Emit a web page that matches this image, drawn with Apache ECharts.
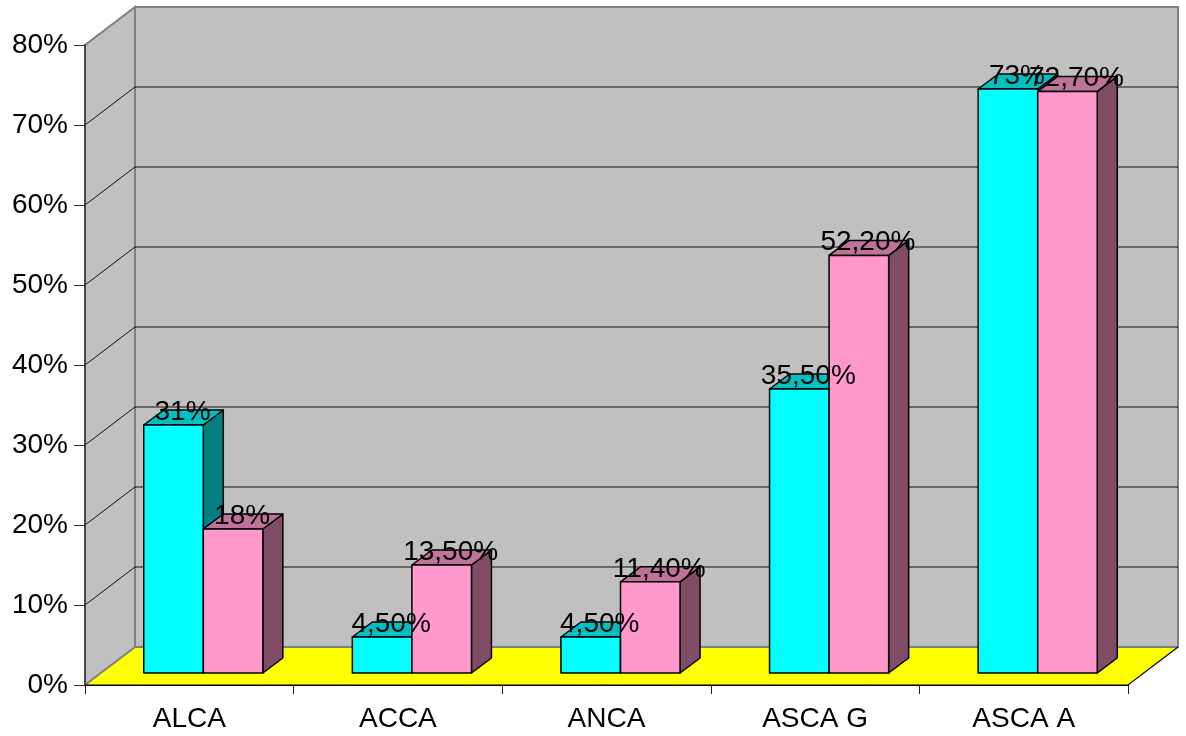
<!DOCTYPE html>
<html>
<head>
<meta charset="utf-8">
<script src="https://cdn.jsdelivr.net/npm/echarts@6/dist/echarts.min.js"></script>
<style>html,body{margin:0;padding:0;background:#fff;}#c{width:1186px;height:736px;}</style>
</head>
<body>
<div id="c"></div>
<script>
const categories = ['ALCA', 'ACCA', 'ANCA', 'ASCA G', 'ASCA A'];
const seriesCyan = [31, 4.5, 4.5, 35.5, 73];
const seriesPink = [18, 13.5, 11.4, 52.2, 72.7];
const yTicks = [0, 10, 20, 30, 40, 50, 60, 70, 80];

const FONT = '"Liberation Sans", Arial, sans-serif';
const DX = 50, DY = -38;       // wall depth
const BX = 14, BY = -12;       // bar front plane offset
const BDX = 20, BDY = -15;     // bar depth

function fmt(v) {
  return (v % 1 === 0) ? v + '%' : v.toFixed(2).replace('.', ',') + '%';
}

function barGeom(api, side) {
  const i = api.value(0), v = api.value(1);
  const c = api.coord([i, v]);
  const b = api.coord([i, 0]);
  const band = api.size([1, 0])[0];
  const w = band * 0.2855;
  const cx = c[0] + BX;
  const x0 = side < 0 ? cx - w : cx;
  return { x0: x0, x1: x0 + w, yt: c[1] + BY, yb: b[1] + BY, v: v };
}

function makeBar(side, front, top, sideCol) {
  return function (params, api) {
    const g = barGeom(api, side);
    const st = { stroke: '#000', lineWidth: 1.5, lineJoin: 'round' };
    return {
      type: 'group',
      children: [
        { type: 'polygon', shape: { points: [[g.x1, g.yt], [g.x1 + BDX, g.yt + BDY], [g.x1 + BDX, g.yb + BDY], [g.x1, g.yb]] },
          style: Object.assign({ fill: sideCol }, st) },
        { type: 'polygon', shape: { points: [[g.x0, g.yt], [g.x1, g.yt], [g.x1 + BDX, g.yt + BDY], [g.x0 + BDX, g.yt + BDY]] },
          style: Object.assign({ fill: top }, st) },
        { type: 'rect', shape: { x: g.x0, y: g.yt, width: g.x1 - g.x0, height: g.yb - g.yt },
          style: Object.assign({ fill: front }, st) }
      ]
    };
  };
}

function makeLabel(side) {
  return function (params, api) {
    const g = barGeom(api, side);
    return {
      type: 'text',
      style: {
        x: (g.x0 + g.x1) / 2 + 9, y: g.yt - 13,
        text: fmt(g.v), fill: '#000',
        font: '28px ' + FONT,
        align: 'center', verticalAlign: 'middle'
      }
    };
  };
}

function renderWalls(params, api) {
  const cs = params.coordSys;
  const L = cs.x, R = cs.x + cs.width;
  const y = v => api.coord([0, v])[1];
  const y0 = y(yTicks[0]), yTop = y(yTicks[yTicks.length - 1]);
  const kids = [];
  kids.push({ type: 'polygon', shape: { points: [[L, y0], [R, y0], [R + DX, y0 + DY], [L + DX, y0 + DY]] },
    style: { fill: '#FFFF00', stroke: null } });
  kids.push({ type: 'polygon', shape: { points: [[L + DX, yTop + DY], [R + DX, yTop + DY], [R + DX, y0 + DY], [L + DX, y0 + DY]] },
    style: { fill: '#C0C0C0', stroke: '#808080', lineWidth: 2 } });
  kids.push({ type: 'polygon', shape: { points: [[L, yTop], [L + DX, yTop + DY], [L + DX, y0 + DY], [L, y0]] },
    style: { fill: '#C0C0C0', stroke: '#808080', lineWidth: 2 } });
  yTicks.forEach(v => {
    if (v === yTicks[0] || v === yTicks[yTicks.length - 1]) return;
    const yy = y(v);
    kids.push({ type: 'polyline', shape: { points: [[L, yy], [L + DX, yy + DY], [R + DX, yy + DY]] },
      style: { fill: null, stroke: '#111', lineWidth: 1 } });
  });
  kids.push({ type: 'polyline', shape: { points: [[L, y0], [R, y0], [R + DX, y0 + DY]] },
    style: { fill: null, stroke: '#000', lineWidth: 1.2 } });
  return { type: 'group', children: kids };
}

const chart = echarts.init(document.getElementById('c'), null, { renderer: 'canvas' });
const dataOf = arr => arr.map((v, i) => [i, v]);

chart.setOption({
  animation: false,
  backgroundColor: '#fff',
  grid: { left: 85, right: 58, top: 45, bottom: 51, containLabel: false },
  xAxis: {
    type: 'category', data: categories, boundaryGap: true, z: 10,
    axisLine: { show: true, lineStyle: { color: '#000', width: 1 } },
    axisTick: { show: true, inside: false, length: 9, lineStyle: { color: '#222' } },
    axisLabel: { color: '#000', fontSize: 28, fontFamily: FONT, margin: 20 },
    splitLine: { show: false }
  },
  yAxis: {
    type: 'value', min: 0, max: 80, interval: 10, z: 10,
    axisLine: { show: true, lineStyle: { color: '#333', width: 1.5 } },
    axisTick: { show: true, inside: false, length: 11, lineStyle: { color: '#333' } },
    axisLabel: { color: '#000', fontSize: 28, fontFamily: FONT, margin: 17, formatter: '{value}%' },
    splitLine: { show: false }
  },
  series: [
    { type: 'custom', renderItem: renderWalls, data: [[0, 0]], encode: { x: 0, y: 1 }, clip: false, z: 1, silent: true },
    { type: 'custom', name: 'A', renderItem: makeBar(-1, '#00FFFF', '#00C0C0', '#008080'), data: dataOf(seriesCyan), encode: { x: 0, y: 1 }, clip: false, z: 2 },
    { type: 'custom', name: 'B', renderItem: makeBar(1, '#FF99CC', '#C07399', '#804C66'), data: dataOf(seriesPink), encode: { x: 0, y: 1 }, clip: false, z: 3 },
    { type: 'custom', renderItem: makeLabel(-1), data: dataOf(seriesCyan), encode: { x: 0, y: 1 }, clip: false, z: 20, silent: true },
    { type: 'custom', renderItem: makeLabel(1), data: dataOf(seriesPink), encode: { x: 0, y: 1 }, clip: false, z: 20, silent: true }
  ]
});
</script>
</body>
</html>
